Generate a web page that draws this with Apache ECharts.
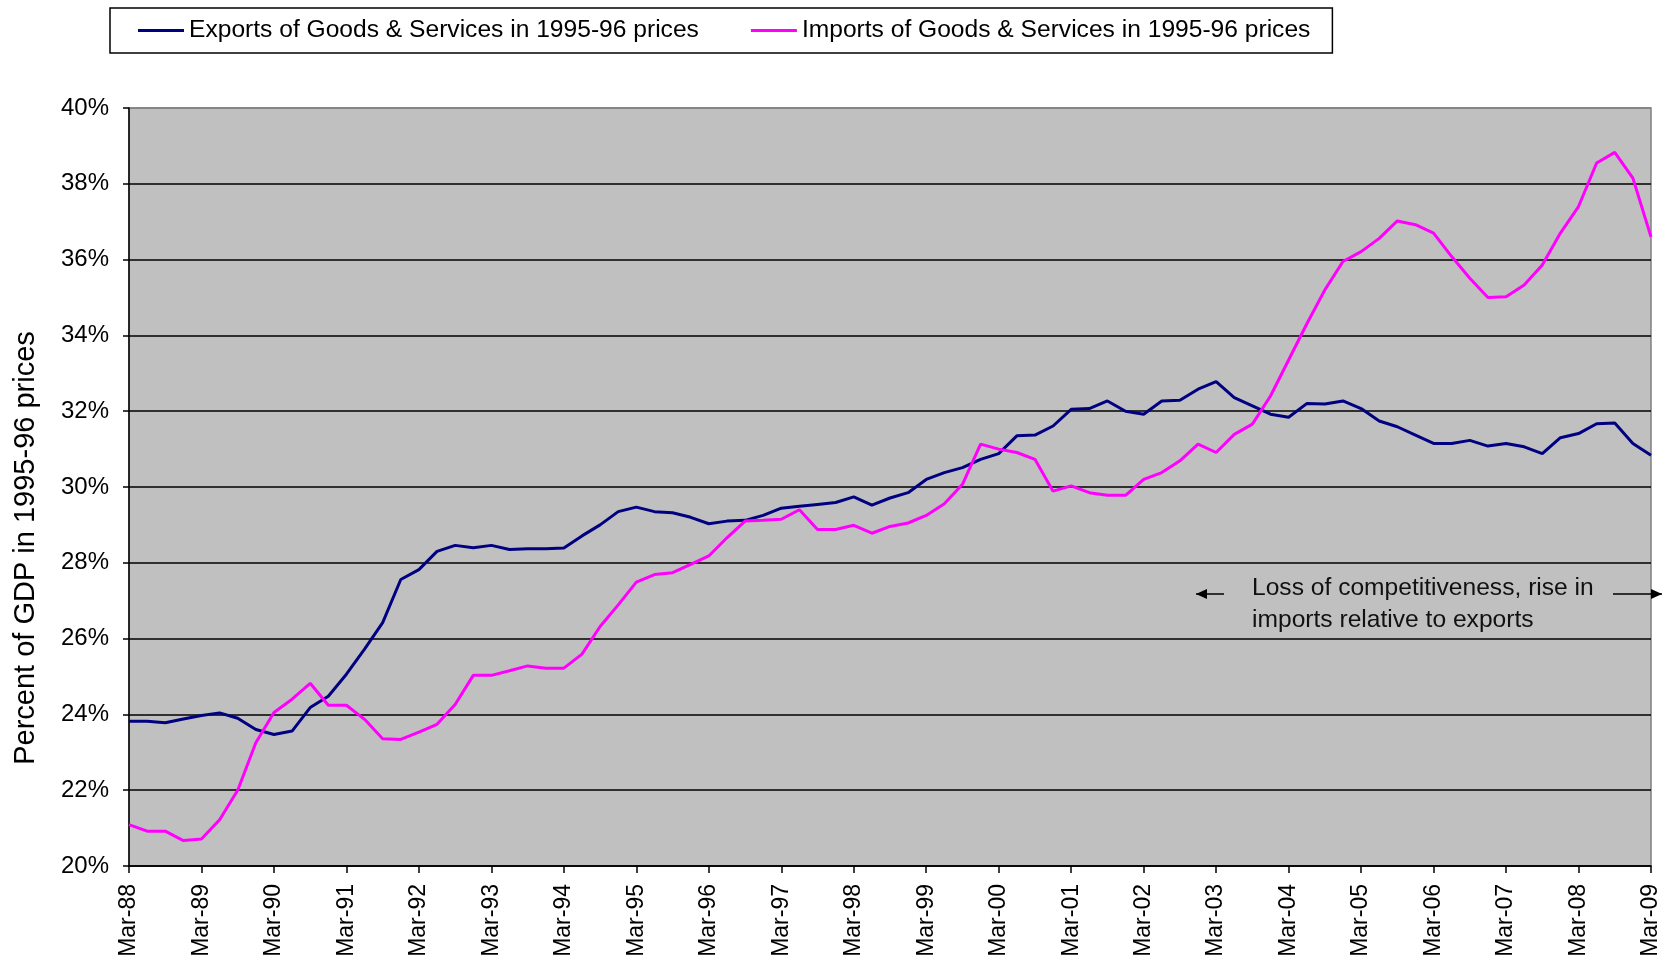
<!DOCTYPE html>
<html>
<head>
<meta charset="utf-8">
<title>Exports and imports of goods and services</title>
<script src="https://cdn.jsdelivr.net/npm/echarts@6/dist/echarts.min.js"></script>
<style>
    html, body { margin: 0; padding: 0; background: #fff; }
    #chart { width: 1675px; height: 962px; }
</style>
</head>
<body>
<div id="chart"></div>
<script>
'use strict';

// quarterly, Mar-88 .. Mar-09
const quarters = [
    'Mar-88', 'Jun-88', 'Sep-88', 'Dec-88', 'Mar-89', 'Jun-89', 'Sep-89', 'Dec-89',
    'Mar-90', 'Jun-90', 'Sep-90', 'Dec-90', 'Mar-91', 'Jun-91', 'Sep-91', 'Dec-91',
    'Mar-92', 'Jun-92', 'Sep-92', 'Dec-92', 'Mar-93', 'Jun-93', 'Sep-93', 'Dec-93',
    'Mar-94', 'Jun-94', 'Sep-94', 'Dec-94', 'Mar-95', 'Jun-95', 'Sep-95', 'Dec-95',
    'Mar-96', 'Jun-96', 'Sep-96', 'Dec-96', 'Mar-97', 'Jun-97', 'Sep-97', 'Dec-97',
    'Mar-98', 'Jun-98', 'Sep-98', 'Dec-98', 'Mar-99', 'Jun-99', 'Sep-99', 'Dec-99',
    'Mar-00', 'Jun-00', 'Sep-00', 'Dec-00', 'Mar-01', 'Jun-01', 'Sep-01', 'Dec-01',
    'Mar-02', 'Jun-02', 'Sep-02', 'Dec-02', 'Mar-03', 'Jun-03', 'Sep-03', 'Dec-03',
    'Mar-04', 'Jun-04', 'Sep-04', 'Dec-04', 'Mar-05', 'Jun-05', 'Sep-05', 'Dec-05',
    'Mar-06', 'Jun-06', 'Sep-06', 'Dec-06', 'Mar-07', 'Jun-07', 'Sep-07', 'Dec-07',
    'Mar-08', 'Jun-08', 'Sep-08', 'Dec-08', 'Mar-09'
];

// percent of GDP, 1995-96 prices
const exportsPct = [
    23.82, 23.82, 23.78, 23.88, 23.97, 24.04, 23.90, 23.60,
    23.47, 23.56, 24.18, 24.48, 25.06, 25.72, 26.42, 27.56,
    27.82, 28.30, 28.46, 28.40, 28.46, 28.35, 28.37, 28.37,
    28.39, 28.71, 29.00, 29.35, 29.47, 29.35, 29.32, 29.20,
    29.03, 29.10, 29.12, 29.25, 29.44, 29.49, 29.54, 29.59,
    29.74, 29.52, 29.71, 29.85, 30.20, 30.38, 30.51, 30.73,
    30.88, 31.35, 31.37, 31.61, 32.05, 32.07, 32.27, 32.00,
    31.92, 32.27, 32.29, 32.58, 32.78, 32.36, 32.14, 31.92,
    31.84, 32.20, 32.19, 32.27, 32.07, 31.74, 31.59, 31.37,
    31.15, 31.15, 31.23, 31.08, 31.15, 31.06, 30.88, 31.30,
    31.41, 31.67, 31.69, 31.15, 30.84
];

const importsPct = [
    21.09, 20.92, 20.92, 20.67, 20.71, 21.22, 22.00, 23.25,
    24.05, 24.40, 24.82, 24.24, 24.24, 23.87, 23.36, 23.34,
    23.53, 23.74, 24.26, 25.03, 25.03, 25.15, 25.28, 25.22,
    25.22, 25.59, 26.32, 26.89, 27.49, 27.69, 27.74, 27.96,
    28.18, 28.66, 29.10, 29.12, 29.15, 29.40, 28.88, 28.88,
    28.99, 28.78, 28.96, 29.05, 29.25, 29.56, 30.07, 31.13,
    31.00, 30.91, 30.73, 29.89, 30.03, 29.85, 29.78, 29.78,
    30.20, 30.38, 30.69, 31.13, 30.91, 31.39, 31.66, 32.40,
    33.35, 34.30, 35.20, 35.95, 36.21, 36.56, 37.02, 36.92,
    36.70, 36.08, 35.51, 35.00, 35.02, 35.33, 35.86, 36.70,
    37.40, 38.55, 38.83, 38.15, 36.60
];

const seriesNames = [
    'Exports of Goods & Services in 1995-96 prices',
    'Imports of Goods & Services in 1995-96 prices'
];
const noteLines = ['Loss of competitiveness, rise in', 'imports relative to exports'];

const FONT = "'Liberation Sans', Arial, sans-serif";
// top gridline is the grey plot border
const grey = ['#000', '#000', '#000', '#000', '#000', '#000', '#000', '#000', '#000', '#000', '#808080'];

const chart = echarts.init(document.getElementById('chart'));

// little arrow, a shaft and a filled head
function arrow(x1, x2, y, dir) {
    const tip = dir < 0 ? x1 : x2;
    return [{
        type: 'line',
        shape: { x1: x1, y1: y, x2: x2, y2: y },
        style: { stroke: '#000', lineWidth: 1.5 }
    }, {
        type: 'polygon',
        shape: { points: [[tip, y], [tip - dir * 11, y - 5], [tip - dir * 11, y + 5]] },
        style: { fill: '#000' }
    }];
}

const option = {
    animation: false,
    backgroundColor: '#fff',
    textStyle: { fontFamily: FONT },
    color: ['#000080', '#FF00FF'],
    legend: {
        left: 110,
        top: 8,
        padding: [10, 22, 10, 28],
        itemGap: 52,
        itemWidth: 46,
        itemHeight: 3,
        icon: 'rect',
        borderColor: '#000',
        borderWidth: 1.5,
        backgroundColor: '#fff',
        textStyle: { fontFamily: FONT, fontSize: 24.6, color: '#000', lineHeight: 24 },
        data: seriesNames
    },
    grid: {
        left: 129,
        right: 24,
        top: 108,
        bottom: 96,
        show: true,
        backgroundColor: '#C0C0C0',
        borderColor: '#808080',
        borderWidth: 1.5
    },
    xAxis: {
        type: 'category',
        boundaryGap: false,
        data: quarters,
        axisLine: { lineStyle: { color: '#000', width: 1.5 } },
        axisTick: { interval: 3, length: 7, lineStyle: { color: '#000', width: 1.5 } },
        axisLabel: {
            interval: 3,
            rotate: 90,
            margin: 18,
            fontFamily: FONT,
            fontSize: 23,
            color: '#000'
        },
        splitLine: { show: false }
    },
    yAxis: {
        type: 'value',
        min: 20,
        max: 40,
        interval: 2,
        axisLine: { show: true, lineStyle: { color: '#000', width: 1.5 } },
        axisTick: { show: true, length: 6, lineStyle: { color: '#000', width: 1.5 } },
        axisLabel: {
            formatter: '{value}%',
            margin: 20,
            fontFamily: FONT,
            fontSize: 24,
            color: '#000'
        },
        splitLine: { lineStyle: { color: grey, width: 1.5 } }
    },
    graphic: [{
        type: 'text',
        x: 26,
        y: 548,
        rotation: Math.PI / 2,
        style: {
            text: 'Percent of GDP in 1995-96 prices',
            fontFamily: FONT,
            fontSize: 29,
            fill: '#000',
            align: 'center',
            verticalAlign: 'middle'
        }
    }, {
        type: 'text',
        left: 1252,
        top: 572,
        style: {
            text: noteLines.join('\n'),
            fontFamily: FONT,
            fontSize: 24.6,
            lineHeight: 32,
            fill: '#111'
        }
    }].concat(arrow(1196, 1224, 594, -1), arrow(1613, 1662, 594, 1)),
    series: [{
        name: seriesNames[0],
        type: 'line',
        data: exportsPct,
        showSymbol: false,
        lineStyle: { width: 3, color: '#000080' }
    }, {
        name: seriesNames[1],
        type: 'line',
        data: importsPct,
        showSymbol: false,
        lineStyle: { width: 3, color: '#FF00FF' }
    }]
};

chart.setOption(option);
</script>
</body>
</html>
